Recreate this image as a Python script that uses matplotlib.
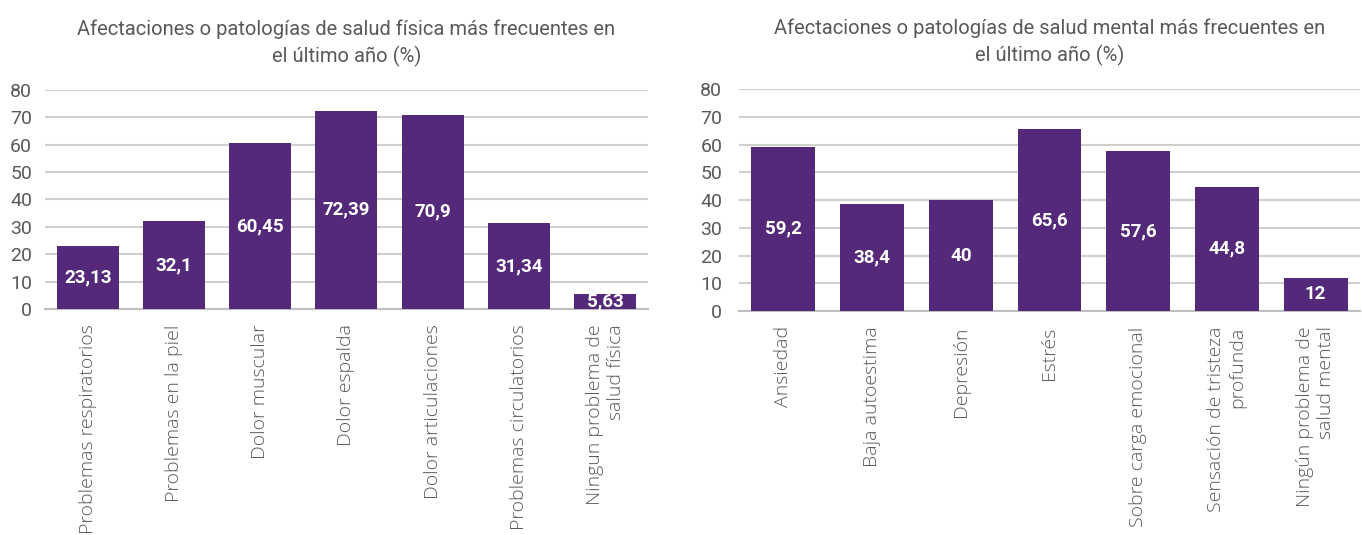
import matplotlib
matplotlib.use("Agg")
import matplotlib.pyplot as plt

# data
fis_labels = ["Problemas respiratorios", "Problemas en la piel", "Dolor muscular",
              "Dolor espalda", "Dolor articulaciones", "Problemas circulatorios",
              "Ningun problema de\nsalud física"]
fis_values = [23.13, 32.1, 60.45, 72.39, 70.9, 31.34, 5.63]

men_labels = ["Ansiedad", "Baja autoestima", "Depresión", "Estrés",
              "Sobre carga emocional", "Sensación de tristeza\nprofunda",
              "Ningún problema de\nsalud mental"]
men_values = [59.2, 38.4, 40, 65.6, 57.6, 44.8, 12]

fis_title = "Afectaciones o patologías de salud física más frecuentes en\nel último año (%)"
men_title = "Afectaciones o patologías de salud mental más frecuentes en\nel último año (%)"

purple = "#55297A"
grey_text = "#595959"
plt.rcParams['font.family'] = ['Roboto', 'DejaVu Sans']

fig = plt.figure(figsize=(13.62, 5.35), dpi=100)
ax1 = fig.add_axes([0.0327, 0.4224, 0.4433, 0.4096])
ax2 = fig.add_axes([0.5426, 0.4187, 0.4559, 0.4149])


def draw(ax, labels, values, title, ypad):
    x = range(len(values))
    ax.bar(x, values, width=0.72, color=purple, zorder=3)
    for i, v in zip(x, values):
        txt = f"{v:g}".replace(".", ",")
        ax.text(i, v / 2, txt, ha="center", va="center", color="white",
                fontsize=13.5, fontweight="bold", zorder=4)
    ax.set_ylim(0, 80)
    ax.set_xlim(-0.5, len(values) - 0.5)
    ax.set_yticks(range(0, 81, 10))
    ax.yaxis.grid(True, color="#D0D0D0", linewidth=1.5, zorder=0)
    ax.set_axisbelow(True)
    for s in ["top", "right", "left"]:
        ax.spines[s].set_visible(False)
    ax.spines["bottom"].set_color("#BFBFBF")
    ax.spines["bottom"].set_linewidth(1.5)
    ax.tick_params(axis="both", length=0, colors=grey_text, labelsize=14)
    ax.tick_params(axis="y", pad=ypad)
    ax.tick_params(axis="x", pad=11)
    ax.set_xticks(list(x))
    ax.set_xticklabels(labels, rotation=90, ha="center", va="top",
                       multialignment="right", fontsize=14, color=grey_text,
                       family=["Open Sans", "DejaVu Sans"], fontweight="light")
    ax.set_title(title, fontsize=14.5, color=grey_text, pad=20, linespacing=1.4)


draw(ax1, fis_labels, fis_values, fis_title, 9)
draw(ax2, men_labels, men_values, men_title, 12)

fig.savefig("out.png", dpi=100)
